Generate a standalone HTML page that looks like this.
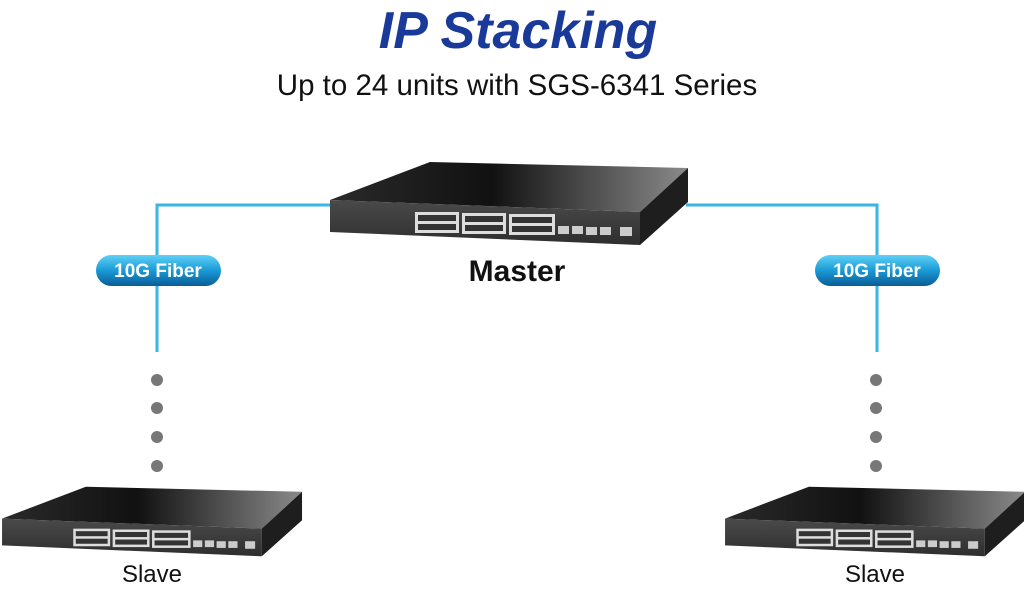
<!DOCTYPE html>
<html><head><style>
html,body{margin:0;padding:0;background:#fff;}
body{width:1024px;height:589px;overflow:hidden;position:relative;font-family:"Liberation Sans",Arial,sans-serif;}
</style></head><body>
<svg width="1024" height="589" viewBox="0 0 1024 589" xmlns="http://www.w3.org/2000/svg" style="position:absolute;left:0;top:0">
<defs>
<linearGradient id="top" x1="0" y1="0" x2="1" y2="0">
<stop offset="0" stop-color="#2a2a2a"/><stop offset="0.45" stop-color="#111"/><stop offset="1" stop-color="#8a8a8a"/>
</linearGradient>
<linearGradient id="front" x1="0" y1="0" x2="0" y2="1">
<stop offset="0" stop-color="#4a4a4a"/><stop offset="1" stop-color="#2e2e2e"/>
</linearGradient>
<linearGradient id="pill" x1="0" y1="0" x2="0" y2="1">
<stop offset="0" stop-color="#5fd0f5"/><stop offset="0.5" stop-color="#1a9ad6"/><stop offset="1" stop-color="#0a5d96"/>
</linearGradient>
<g id="sw">
<polygon points="430,162 688,168 640,212 330,200" fill="url(#top)"/>
<polygon points="330,200 640,212 640,245 330,232" fill="url(#front)"/>
<polygon points="640,212 688,168 688,202 640,245" fill="#1e1e1e"/>
<g fill="#ddd">
<rect x="415" y="212" width="44" height="21"/>
<rect x="462" y="213" width="44" height="21"/>
<rect x="509" y="214" width="46" height="21"/>
</g>
<g fill="#333">
<rect x="418" y="215" width="38" height="6"/><rect x="418" y="224" width="38" height="6"/>
<rect x="465" y="216" width="38" height="6"/><rect x="465" y="225" width="38" height="6"/>
<rect x="512" y="217" width="40" height="6"/><rect x="512" y="226" width="40" height="6"/>
</g>
<g fill="#ccc">
<rect x="558" y="226" width="11" height="8"/><rect x="572" y="226" width="11" height="8"/>
<rect x="586" y="227" width="11" height="8"/><rect x="600" y="227" width="11" height="8"/>
<rect x="620" y="227" width="12" height="9"/>
</g>
</g>
</defs>
<text x="518" y="48" text-anchor="middle" font-size="52" font-weight="bold" font-style="italic" fill="#1a3a9a">IP Stacking</text>
<text x="517" y="95" text-anchor="middle" font-size="29.5" fill="#111">Up to 24 units with SGS-6341 Series</text>
<g stroke="#3ab5e6" stroke-width="3" fill="none">
<polyline points="157,352 157,205 332,205"/>
<polyline points="877,352 877,205 686,205"/>
</g>
<use href="#sw"/>
<use href="#sw" transform="translate(-274.5,351) scale(0.838)"/>
<use href="#sw" transform="translate(448.5,351) scale(0.838)"/>
<rect x="96" y="255" width="125" height="31" rx="15.5" fill="url(#pill)"/>
<text x="158" y="277" text-anchor="middle" font-size="19" font-weight="bold" fill="#fff">10G Fiber</text>
<rect x="815" y="255" width="125" height="31" rx="15.5" fill="url(#pill)"/>
<text x="877" y="277" text-anchor="middle" font-size="19" font-weight="bold" fill="#fff">10G Fiber</text>
<g fill="#777">
<circle cx="157" cy="380" r="6"/><circle cx="157" cy="408" r="6"/><circle cx="157" cy="437" r="6"/><circle cx="157" cy="466" r="6"/>
<circle cx="876" cy="380" r="6"/><circle cx="876" cy="408" r="6"/><circle cx="876" cy="437" r="6"/><circle cx="876" cy="466" r="6"/>
</g>
<text x="517" y="281" text-anchor="middle" font-size="30" font-weight="bold" fill="#111">Master</text>
<text x="152" y="582" text-anchor="middle" font-size="24" fill="#111">Slave</text>
<text x="875" y="582" text-anchor="middle" font-size="24" fill="#111">Slave</text>
</svg>
</body></html>
